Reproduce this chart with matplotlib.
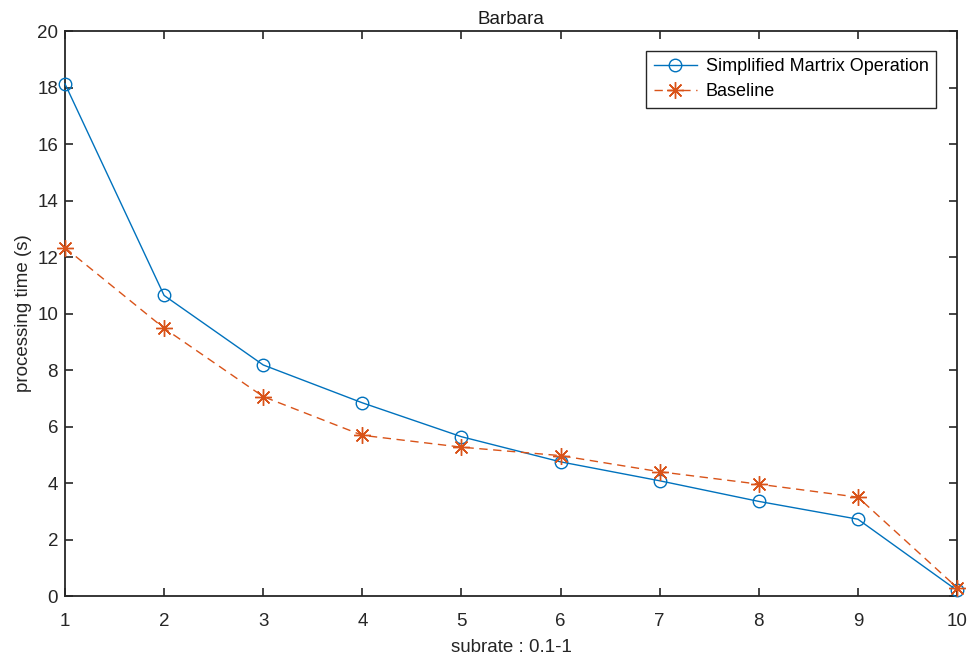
import matplotlib
matplotlib.use("Agg")
import matplotlib.pyplot as plt

plt.rcParams['font.family'] = ['Liberation Sans', 'DejaVu Sans']

x = [1, 2, 3, 4, 5, 6, 7, 8, 9, 10]
simplified = [18.13, 10.64, 8.18, 6.84, 5.64, 4.75, 4.08, 3.35, 2.72, 0.20]
baseline = [12.33, 9.48, 7.06, 5.69, 5.27, 4.97, 4.40, 3.96, 3.50, 0.30]
xticks = [1, 2, 3, 4, 5, 6, 7, 8, 9, 10]
yticks = [0, 2, 4, 6, 8, 10, 12, 14, 16, 18, 20]

fig = plt.figure(figsize=(9.76, 6.61), dpi=100)
ax = fig.add_axes([0.0666, 0.0983, 0.9139, 0.8547])

ax.plot(x, simplified, color='#0072BD', lw=1.0, marker='o', markersize=9,
        markerfacecolor='none', markeredgewidth=1.0, clip_on=False,
        label='Simplified Martrix Operation')
ax.plot(x, baseline, color='#D95319', lw=1.0, ls=(0, (6, 4)), marker=(8, 2, 0),
        markersize=12, markerfacecolor='none', markeredgewidth=1.0, clip_on=False,
        label='Baseline')

ax.set_xlim(1, 10)
ax.set_ylim(0, 20)
ax.set_xticks(xticks)
ax.set_yticks(yticks)
ax.tick_params(direction='in', length=6, width=1.2, labelsize=13.5, colors='#262626',
               top=True, right=True)
ax.tick_params(axis='x', pad=12)
ax.tick_params(axis='y', pad=5)
for s in ax.spines.values():
    s.set_linewidth(1.3)
    s.set_color('#262626')
    s.set_zorder(1)

ax.set_title('Barbara', fontsize=13.5, color='#1a1a1a', pad=5)
ax.set_xlabel('subrate : 0.1-1', fontsize=13.5, color='#262626', labelpad=7)
ax.set_ylabel('processing time (s)', fontsize=13.5, color='#262626', labelpad=4)

leg = ax.legend(loc='upper right', bbox_to_anchor=(0.9765, 0.9646), borderaxespad=0,
                fontsize=13, fancybox=False, edgecolor='#262626', framealpha=1,
                handlelength=2.4, borderpad=0.4, labelspacing=0.45, handletextpad=0.5)
leg.get_frame().set_linewidth(1.0)

fig.savefig('out.png', dpi=100)
